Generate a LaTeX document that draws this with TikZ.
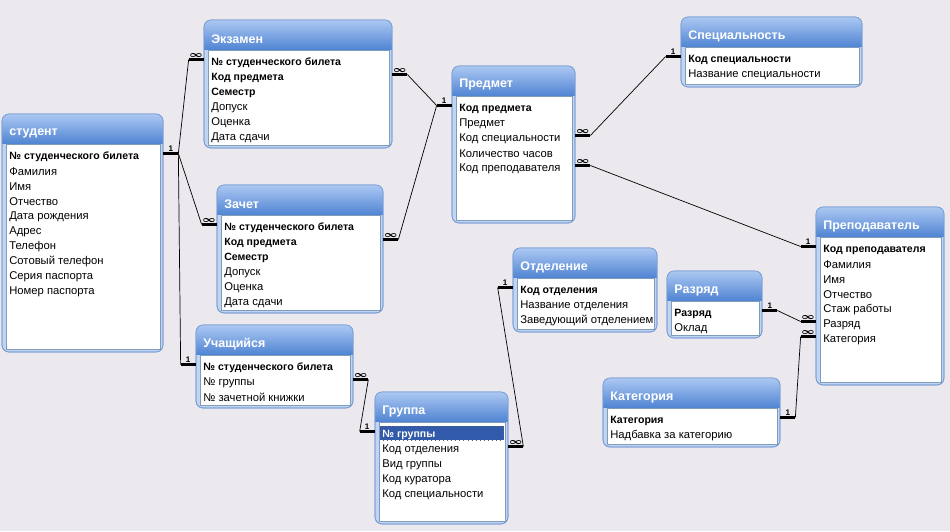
\documentclass[tikz,border=0pt]{standalone}
\usepackage{fontspec}
\setmainfont{Liberation Sans}
\usetikzlibrary{fit}
\definecolor{bg}{RGB}{236,233,238}
\definecolor{frameedge}{RGB}{122,158,214}
\definecolor{framebody}{RGB}{193,213,243}
\definecolor{titletop}{RGB}{172,200,242}
\definecolor{titlebot}{RGB}{82,134,212}
\definecolor{listedge}{RGB}{127,157,185}
\definecolor{selrow}{RGB}{49,90,170}
\tikzset{
  frame/.style={draw=frameedge, fill=framebody, rounded corners=4pt},
  listbox/.style={draw=listedge, fill=white},
  tabtitle/.style={anchor=west, text=white, inner sep=0pt,
    font=\fontsize{7.1}{8}\selectfont\bfseries},
  field/.style={anchor=west, inner sep=0pt, font=\fontsize{6.4}{7}\selectfont},
  stub/.style={line width=1.6pt},
  link/.style={line width=0.4pt},
  card/.style={above, inner sep=0.6pt, font=\fontsize{4.6}{5}\selectfont\bfseries}
}
\newcommand{\kf}{\fontsize{6}{7}\selectfont\bfseries}
\newcommand{\many}{{\fontsize{5.4}{6}\selectfont\boldmath$\infty$}}
% field list window: name, x1, y1, x2, y2, title
\newcommand{\fieldlist}[6]{
  \path[frame] (#2,#3) rectangle (#4,#5);
  \begin{scope}
    \clip[rounded corners=4pt] (#2,#3) rectangle (#4,#5);
    \shade[top color=titletop, bottom color=titlebot] (#2,#3) rectangle (#4,#3+29);
  \end{scope}
  \draw[frameedge, rounded corners=4pt] (#2,#3) rectangle (#4,#5);
  \draw[listbox] (#2+4,#3+30) rectangle (#4-3,#5-3);
  \node[tabtitle] at (#2+7,#3+19) {#6};
  \coordinate (#1-nw) at (#2,#3);
  \coordinate (#1-se) at (#4,#5);
  \node[inner sep=0pt, fit=(#1-nw)(#1-se)] (#1) {};
}
% rows: name, x1, y1, list
\newcommand{\fields}[4]{
  \foreach [count=\i] \fld in {#4}
    \node[field] (#1-\i) at (#2+7,#3+27.5+15*\i) {\fld};
}
% relation stubs: table, row, label, coordinate
\newcommand{\stubr}[4]{
  \path (#1.east |- #1-#2) ++(0,-3) coordinate (#4-a) ++(15,0) coordinate (#4);
  \draw[stub] (#4-a) -- node[card] {#3} (#4);
}
\newcommand{\stubl}[4]{
  \path (#1.west |- #1-#2) ++(0,-3) coordinate (#4-a) ++(-15,0) coordinate (#4);
  \draw[stub] (#4-a) -- node[card] {#3} (#4);
}

\begin{document}
\begin{tikzpicture}[x=0.02cm, y=-0.02cm]
  \fill[bg] (0,0) rectangle (950,531);
  \useasboundingbox (0,0) rectangle (950,531);

  \fieldlist{stud}{2}{114}{163}{352}{студент}
  \fields{stud}{2}{114}{\kf № студенческого билета, Фамилия, Имя, Отчество,
    Дата рождения, Адрес, Телефон, Сотовый телефон, Серия паспорта, Номер паспорта}

  \fieldlist{ex}{204}{20}{392}{148}{Экзамен}
  \fields{ex}{204}{20}{\kf № студенческого билета, \kf Код предмета, \kf Семестр,
    Допуск, Оценка, Дата сдачи}

  \fieldlist{zach}{217}{185}{383}{313}{Зачет}
  \fields{zach}{217}{185}{\kf № студенческого билета, \kf Код предмета, \kf Семестр,
    Допуск, Оценка, Дата сдачи}

  \fieldlist{pred}{452}{66}{575}{223}{Предмет}
  \fields{pred}{452}{66}{\kf Код предмета, Предмет, Код специальности,
    Количество часов, Код преподавателя}

  \fieldlist{spec}{681}{17}{862}{87}{Специальность}
  \fields{spec}{681}{17}{\kf Код специальности, Название специальности}

  \fieldlist{prep}{816}{207}{944}{385}{Преподаватель}
  \fields{prep}{816}{207}{\kf Код преподавателя, Фамилия, Имя, Отчество,
    Стаж работы, Разряд, Категория}

  \fieldlist{uch}{196}{325}{353}{408}{Учащийся}
  \fields{uch}{196}{325}{\kf № студенческого билета, № группы, № зачетной книжки}

  \fieldlist{gr}{375}{392}{508}{524}{Группа}
  \fill[selrow] (380,426) rectangle (504,440);
  \draw[dotted, black!60, line width=0.3pt] (380.5,426) rectangle (503.5,440);
  \fields{gr}{375}{392}{\kf\color{white}№ группы, Код отделения, Вид группы,
    Код куратора, Код специальности}

  \fieldlist{otd}{513}{248}{657}{332}{Отделение}
  \fields{otd}{513}{248}{\kf Код отделения, Название отделения, Заведующий отделением}

  \fieldlist{raz}{667}{271}{762}{338}{Разряд}
  \fields{raz}{667}{271}{\kf Разряд, Оклад}

  \fieldlist{kat}{603}{378}{780}{447}{Категория}
  \fields{kat}{603}{378}{\kf Категория, Надбавка за категорию}

  % relation stubs
  \stubr{stud}{1}{1}{s-stud}
  \stubl{ex}{1}{\many}{s-ex1}
  \stubl{zach}{1}{\many}{s-zach1}
  \stubl{uch}{1}{1}{s-uch1}
  \stubr{ex}{2}{\many}{s-ex2}
  \stubr{zach}{2}{\many}{s-zach2}
  \stubl{pred}{1}{1}{s-pred1}
  \stubr{pred}{3}{\many}{s-pred3}
  \stubr{pred}{5}{\many}{s-pred5}
  \stubl{spec}{1}{1}{s-spec1}
  \stubl{prep}{1}{1}{s-prep1}
  \stubl{prep}{6}{\many}{s-prep6}
  \stubl{prep}{7}{\many}{s-prep7}
  \stubr{raz}{1}{1}{s-raz1}
  \stubr{kat}{1}{1}{s-kat1}
  \stubr{uch}{2}{\many}{s-uch2}
  \stubl{gr}{1}{1}{s-gr1}
  \stubr{gr}{2}{\many}{s-gr2}
  \stubl{otd}{1}{1}{s-otd1}

  % relations
  \draw[link] (s-stud) -- (s-ex1);
  \draw[link] (s-stud) -- (s-zach1);
  \draw[link] (s-stud) -- (s-uch1);
  \draw[link] (s-ex2) -- (s-pred1);
  \draw[link] (s-zach2) -- (s-pred1);
  \draw[link] (s-pred3) -- (s-spec1);
  \draw[link] (s-pred5) -- (s-prep1);
  \draw[link] (s-raz1) -- (s-prep6);
  \draw[link] (s-kat1) -- (s-prep7);
  \draw[link] (s-uch2) -- (s-gr1);
  \draw[link] (s-gr2) -- (s-otd1);
\end{tikzpicture}
\end{document}
